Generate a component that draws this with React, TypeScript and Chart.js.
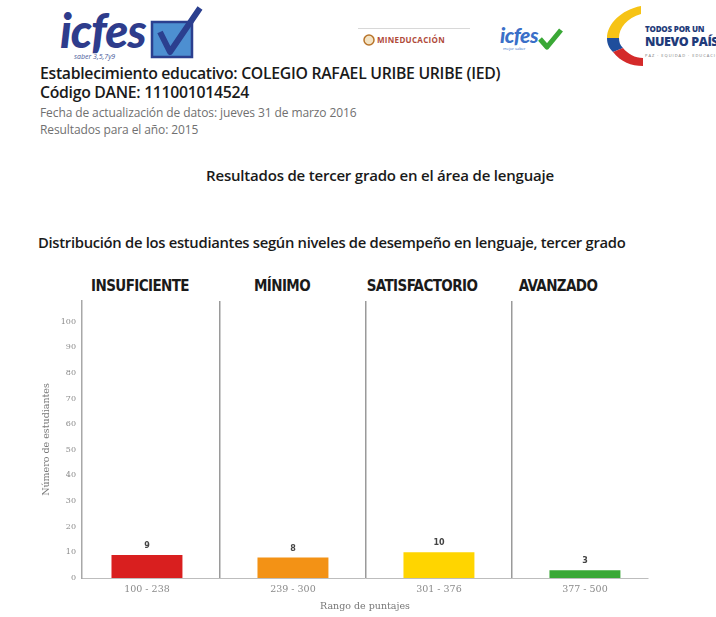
import React, { useEffect, useRef } from 'react';
import { Chart, registerables } from 'chart.js';

Chart.register(...registerables);

// ---- data ----
const LEVELS = ['INSUFICIENTE', 'MÍNIMO', 'SATISFACTORIO', 'AVANZADO'];
const SCORE_RANGES = ['100 - 238', '239 - 300', '301 - 376', '377 - 500'];
const STUDENTS = [9, 8, 10, 3];
const BAR_COLORS = ['#d91f1f', '#f39215', '#ffd500', '#3aa836'];
const Y_TICKS = [0, 10, 20, 30, 40, 50, 60, 70, 80, 90, 100];
const Y_MAX = 108;
const X_MIN = -0.445;
const X_MAX = 3.432;

const valueLabels = {
  id: 'valueLabels',
  afterDatasetsDraw(chart: any) {
    const { ctx } = chart;
    const meta = chart.getDatasetMeta(0);
    ctx.save();
    ctx.font = 'bold 8px "DejaVu Sans"';
    ctx.fillStyle = '#444';
    ctx.textAlign = 'center';
    ctx.textBaseline = 'bottom';
    meta.data.forEach((el: any, i: number) => {
      ctx.fillText(String(STUDENTS[i]), el.x, el.y - 5);
    });
    ctx.restore();
  },
};

function BarChart() {
  const ref = useRef<HTMLCanvasElement | null>(null);
  useEffect(() => {
    if (!ref.current) return;
    const chart = new Chart(ref.current, {
      type: 'bar',
      data: {
        datasets: [
          {
            data: STUDENTS.map((v, i) => ({ x: i, y: v })),
            backgroundColor: BAR_COLORS,
            borderWidth: 0,
            categoryPercentage: 1,
            barPercentage: 0.486,
          },
        ],
      },
      options: {
        animation: false,
        responsive: false,
        layout: { padding: { top: 41, right: 68, left: 0, bottom: 0 } },
        plugins: { legend: { display: false }, tooltip: { enabled: false } },
        scales: {
          x: {
            type: 'linear',
            offset: false,
            min: X_MIN,
            max: X_MAX,
            afterBuildTicks: (s: any) => {
              s.ticks = SCORE_RANGES.map((_, i) => ({ value: i }));
            },
            afterFit: (s: any) => {
              s.height = 39;
            },
            ticks: {
              callback: (v: any) => SCORE_RANGES[v] ?? '',
              autoSkip: false,
              maxRotation: 0,
              padding: 6,
              color: '#8a8a8a',
              font: { family: 'DejaVu Serif', size: 9.5 },
            },
            grid: { offset: true, drawTicks: false, color: '#9a9a9a', lineWidth: 1.5 },
            border: { display: true, color: '#bdbdbd', width: 1 },
            title: {
              display: true,
              text: 'Rango de puntajes',
              color: '#777',
              font: { family: 'DejaVu Serif', size: 9.5 },
              padding: { top: 0, bottom: 5 },
            },
          },
          y: {
            min: 0,
            max: Y_MAX,
            afterBuildTicks: (s: any) => {
              s.ticks = Y_TICKS.map((v) => ({ value: v }));
            },
            afterFit: (s: any) => {
              s.width = 82;
            },
            ticks: {
              padding: 6,
              color: '#8a8a8a',
              font: { family: 'DejaVu Serif', size: 8 },
            },
            grid: { display: false, drawTicks: false },
            border: { display: true, color: '#a8a8a8', width: 1.5 },
            title: {
              display: true,
              text: 'Número de estudiantes',
              color: '#777',
              font: { family: 'DejaVu Serif', size: 9.5 },
              padding: { top: 41, bottom: 0 },
            },
          },
        },
      } as any,
      plugins: [valueLabels],
    });
    return () => chart.destroy();
  }, []);
  return <canvas ref={ref} width={716} height={357} style={{ display: 'block', width: 716, height: 357 }} />;
}

const LEVEL_CENTERS = [140, 282, 422, 558];

export default function App() {
  const abs = (left: number, top: number, extra: any = {}) => ({ position: 'absolute' as const, left, top, whiteSpace: 'nowrap' as const, ...extra });
  return (
    <div style={{ position: 'absolute', left: 0, top: 0, width: 716, height: 617, background: '#fff', overflow: 'hidden', fontFamily: '"Open Sans", sans-serif' }}>
      {/* big icfes logo */}
      <div style={abs(60, 2, { fontFamily: 'Lato', fontStyle: 'italic', fontWeight: 900, fontSize: 47, color: '#2e3c8c', letterSpacing: -1, lineHeight: '56px' })}>icfes</div>
      <svg style={{ position: 'absolute', left: 148, top: 4 }} width={60} height={58}>
        <rect x={4} y={18} width={40} height={35} fill="#4d8fd1" stroke="#2b3f8f" strokeWidth={2.5} />
        <path d="M12 28 L22 48 L52 4" fill="none" stroke="#2b3f8f" strokeWidth={6} strokeLinejoin="round" />
      </svg>
      <div style={abs(74, 52, { fontSize: 7, fontStyle: 'italic', color: '#4a5a9a', lineHeight: '9px' })}>saber 3,5,7y9</div>

      {/* MINEDUCACIÓN */}
      <div style={{ position: 'absolute', left: 358, top: 28, width: 112, height: 1, background: '#d8d8d8' }} />
      <svg style={{ position: 'absolute', left: 363, top: 34 }} width={12} height={12}>
        <circle cx={6} cy={6} r={5} fill="#f3e3c4" stroke="#b8742a" strokeWidth={1.5} />
      </svg>
      <div style={abs(377, 34, { fontSize: 8, fontWeight: 700, color: '#b04a3a', lineHeight: '12px', letterSpacing: 0.3 })}>MINEDUCACIÓN</div>

      {/* small icfes */}
      <div style={abs(500, 23, { fontFamily: 'Lato', fontStyle: 'italic', fontWeight: 900, fontSize: 21, color: '#3a6fc8', letterSpacing: -0.5, lineHeight: '24px' })}>icfes</div>
      <svg style={{ position: 'absolute', left: 537, top: 28 }} width={26} height={22}>
        <path d="M3 11 L10 19 L24 2" fill="none" stroke="#3aa836" strokeWidth={5} strokeLinejoin="round" />
      </svg>
      <div style={abs(503, 46, { fontSize: 4, color: '#3a6fc8', lineHeight: '5px' })}>mejor saber</div>

      {/* Todos por un nuevo país */}
      <svg style={{ position: 'absolute', left: 603, top: 4 }} width={42} height={64}>
        <path d="M38 2 C18 6 4 20 4 34 L16 34 C16 24 24 14 38 10 Z" fill="#f6c315" />
        <path d="M4 34 C4 40 6 44 10 48 L20 44 C17 41 16 38 16 34 Z" fill="#1f4e9c" />
        <path d="M10 48 C18 58 28 62 40 62 L40 54 C32 54 25 50 20 44 Z" fill="#d42a2a" />
      </svg>
      <div style={abs(645, 24, { fontSize: 8, fontWeight: 800, color: '#1f3b7a', lineHeight: '10px', letterSpacing: -0.2 })}>TODOS POR UN</div>
      <div style={abs(645, 34, { fontSize: 12.5, fontWeight: 800, color: '#1f3b7a', lineHeight: '15px', letterSpacing: -0.4 })}>NUEVO PAÍS</div>
      <div style={abs(645, 53, { fontSize: 4, color: '#777', lineHeight: '5px', letterSpacing: 1 })}>PAZ · EQUIDAD · EDUCACIÓN</div>

      {/* header texts */}
      <div style={abs(40, 63, { fontSize: 15.8, fontWeight: 600, color: '#1a1a1a', lineHeight: '20px', letterSpacing: -0.3 })}>
        Establecimiento educativo: COLEGIO RAFAEL URIBE URIBE (IED)
      </div>
      <div style={abs(40, 82, { fontSize: 15.8, fontWeight: 600, color: '#1a1a1a', lineHeight: '20px', letterSpacing: -0.3 })}>
        Código DANE: 111001014524
      </div>
      <div style={abs(40, 106, { fontSize: 12, color: '#707070', lineHeight: '14px', letterSpacing: -0.1 })}>
        Fecha de actualización de datos: jueves 31 de marzo 2016
      </div>
      <div style={abs(40, 123, { fontSize: 12, color: '#707070', lineHeight: '14px', letterSpacing: -0.1 })}>
        Resultados para el año: 2015
      </div>
      <div style={abs(0, 166, { width: 760, textAlign: 'center', fontSize: 15, fontWeight: 600, color: '#1a1a1a', lineHeight: '18px', letterSpacing: -0.2 })}>
        Resultados de tercer grado en el área de lenguaje
      </div>
      <div style={abs(38, 233, { fontSize: 14.8, fontWeight: 600, color: '#1a1a1a', lineHeight: '18px', letterSpacing: -0.3 })}>
        Distribución de los estudiantes según niveles de desempeño en lenguaje, tercer grado
      </div>

      {/* level headers */}
      {LEVELS.map((l, i) => (
        <div
          key={l}
          style={abs(LEVEL_CENTERS[i] - 100, 277, {
            width: 200,
            textAlign: 'center',
            fontFamily: '"DejaVu Sans Condensed", "DejaVu Sans"',
            fontStretch: 'condensed',
            fontWeight: 700,
            fontSize: 15,
            color: '#1a1a1a',
            lineHeight: '18px',
            letterSpacing: -0.6,
          })}
        >
          {l}
        </div>
      ))}

      <div style={{ position: 'absolute', left: 0, top: 260 }}>
        <BarChart />
      </div>
    </div>
  );
}
